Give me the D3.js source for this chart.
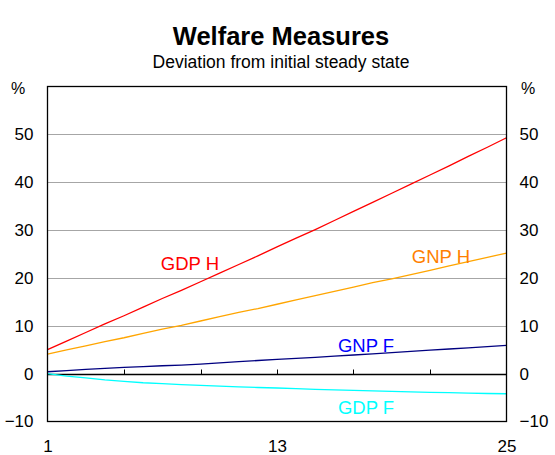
<!DOCTYPE html>
<html>
<head>
<meta charset="utf-8">
<script src="https://cdn.jsdelivr.net/npm/d3@7"></script>
<style>
  body { margin: 0; background: #fff; }
  svg text { font-family: "Liberation Sans", Arial, sans-serif; }
</style>
</head>
<body>
<div id="chart"></div>
<script>
// periods 1..25
const periods = d3.range(1, 26);
const gdpH = [5.0, 6.8, 8.6, 10.4, 12.1, 13.9, 15.7, 17.4, 19.2, 21.0, 22.8, 24.6, 26.5,
              28.3, 30.1, 32.0, 33.9, 35.8, 37.7, 39.6, 41.5, 43.4, 45.4, 47.3, 49.3];
const gnpH = [4.1, 4.95, 5.8, 6.7, 7.5, 8.4, 9.3, 10.1, 11.0, 11.9, 12.8, 13.6, 14.5,
              15.4, 16.3, 17.2, 18.1, 19.0, 19.8, 20.7, 21.6, 22.5, 23.4, 24.3, 25.2];
const gnpF = [0.4, 0.65, 0.9, 1.1, 1.3, 1.45, 1.65, 1.8, 2.0, 2.25, 2.5, 2.75, 3.0,
              3.2, 3.4, 3.65, 3.9, 4.15, 4.4, 4.65, 4.9, 5.15, 5.4, 5.65, 5.9];
const gdpF = [0, -0.5, -0.9, -1.3, -1.6, -1.9, -2.1, -2.3, -2.45, -2.6, -2.75, -2.9, -3.0,
              -3.15, -3.3, -3.4, -3.5, -3.6, -3.7, -3.8, -3.9, -3.95, -4.05, -4.15, -4.2];
const yTicks = [-10, 0, 10, 20, 30, 40, 50];
const xLabels = [1, 13, 25];
const xMinor = [5, 9, 13, 17, 21];

const series = [
  { name: "GDP H", values: gdpH, line: "#ff0000", text: "#ff0000", lx: 190, ly: 270 },
  { name: "GNP H", values: gnpH, line: "#ffa500", text: "#ff7f00", lx: 441, ly: 263 },
  { name: "GNP F", values: gnpF, line: "#000080", text: "#0000ff", lx: 366, ly: 352 },
  { name: "GDP F", values: gdpF, line: "#00ffff", text: "#00ffff", lx: 366, ly: 414 }
];

const W = 555, H = 455;
const plotLeft = 47.5, plotRight = 506.5, plotTop = 86.5, plotBottom = 421.5;

const x = d3.scaleLinear().domain([1, 25]).range([plotLeft, plotRight]);
const y = d3.scaleLinear().domain([-10, 60]).range([plotBottom, plotTop]);

const svg = d3.select("#chart").append("svg")
    .attr("width", W)
    .attr("height", H);

// gridlines
svg.append("g")
    .selectAll("line")
    .data(yTicks.filter(d => d > 0))
    .enter().append("line")
    .attr("x1", plotLeft).attr("x2", plotRight)
    .attr("y1", d => Math.round(y(d)) + 0.5)
    .attr("y2", d => Math.round(y(d)) + 0.5)
    .attr("stroke", "#a6a6a6")
    .attr("stroke-width", 1);

// zero line with upward ticks
const zeroY = Math.round(y(0)) + 0.5;
svg.append("line")
    .attr("x1", plotLeft).attr("x2", plotRight)
    .attr("y1", zeroY).attr("y2", zeroY)
    .attr("stroke", "#000").attr("stroke-width", 1.3);
svg.append("g")
    .selectAll("line")
    .data(xMinor)
    .enter().append("line")
    .attr("x1", d => Math.round(x(d)) + 0.5)
    .attr("x2", d => Math.round(x(d)) + 0.5)
    .attr("y1", zeroY).attr("y2", zeroY - 5)
    .attr("stroke", "#000").attr("stroke-width", 1);

// series
const line = d3.line()
    .x((d, i) => x(periods[i]))
    .y(d => y(d));

svg.append("g")
    .selectAll("path")
    .data(series)
    .enter().append("path")
    .attr("d", d => line(d.values))
    .attr("fill", "none")
    .attr("stroke", d => d.line)
    .attr("stroke-width", 1.3);

svg.append("g")
    .selectAll("text")
    .data(series)
    .enter().append("text")
    .attr("x", d => d.lx)
    .attr("y", d => d.ly)
    .attr("text-anchor", "middle")
    .attr("font-size", 18.5)
    .attr("fill", d => d.text)
    .text(d => d.name);

// frame
svg.append("rect")
    .attr("x", plotLeft).attr("y", plotTop)
    .attr("width", plotRight - plotLeft).attr("height", plotBottom - plotTop)
    .attr("fill", "none")
    .attr("stroke", "#000")
    .attr("stroke-width", 1.3);

// axes
const yLeft = d3.axisLeft(y).tickValues(yTicks).tickSize(0).tickPadding(14);
const yRight = d3.axisRight(y).tickValues(yTicks).tickSize(0).tickPadding(13);
const xAxis = d3.axisBottom(x).tickValues(xLabels).tickSize(0).tickPadding(18);

[svg.append("g").attr("transform", `translate(${plotLeft},0)`).call(yLeft),
 svg.append("g").attr("transform", `translate(${plotRight},0)`).call(yRight),
 svg.append("g").attr("transform", `translate(0,${plotBottom})`).call(xAxis)]
  .forEach(g => {
    g.select(".domain").remove();
    g.selectAll("text")
      .attr("font-size", 17)
      .attr("fill", "#000")
      .style("font-family", '"Liberation Sans", Arial, sans-serif');
  });

svg.append("text").attr("x", 18).attr("y", 94)
    .attr("text-anchor", "middle").attr("font-size", 16).text("%");
svg.append("text").attr("x", 528).attr("y", 94)
    .attr("text-anchor", "middle").attr("font-size", 16).text("%");

// titles
svg.append("text")
    .attr("x", 281).attr("y", 45)
    .attr("text-anchor", "middle")
    .attr("font-size", 25.5)
    .attr("font-weight", "bold")
    .text("Welfare Measures");
svg.append("text")
    .attr("x", 281).attr("y", 68)
    .attr("text-anchor", "middle")
    .attr("font-size", 17.5)
    .text("Deviation from initial steady state");
</script>
</body>
</html>
